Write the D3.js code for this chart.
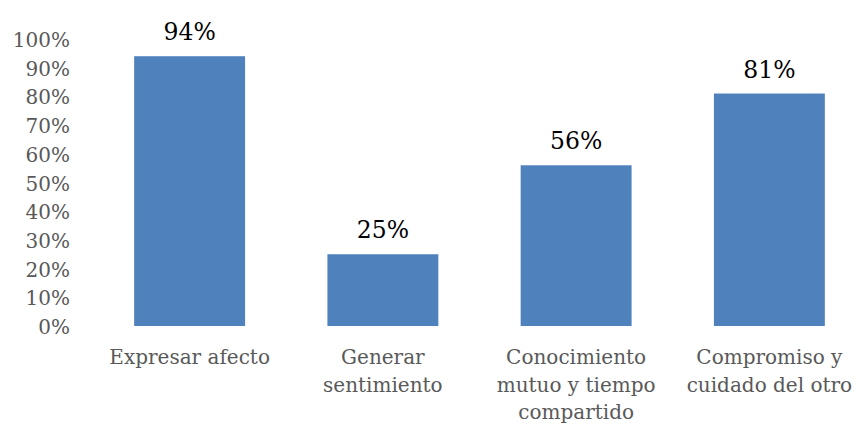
<!DOCTYPE html>
<html>
<head>
<meta charset="utf-8">
<script src="https://cdn.jsdelivr.net/npm/d3@7"></script>
<style>
  body { margin: 0; background: #fff; }
  text { font-family: "DejaVu Serif", serif; font-size: 20px; }
</style>
</head>
<body>
<div id="chart"></div>
<script>
var WIDTH = 854;
var HEIGHT = 424;

// data
var categories = ["Expresar afecto", "Generar sentimiento", "Conocimiento mutuo y tiempo compartido", "Compromiso y cuidado del otro"];
var label_lines = [["Expresar afecto"], ["Generar", "sentimiento"], ["Conocimiento", "mutuo y tiempo", "compartido"], ["Compromiso y", "cuidado del otro"]];
var values = [0.94, 0.25, 0.56, 0.81];
var y_ticks = [0, 0.1, 0.2, 0.3, 0.4, 0.5, 0.6, 0.7, 0.8, 0.9, 1.0];

var svg = d3.select("#chart").append("svg")
    .attr("width", WIDTH)
    .attr("height", HEIGHT);

var x = d3.scaleBand()
    .domain(categories)
    .range([93, 866])
    .paddingInner(0.426)
    .paddingOuter(0.213);

var y = d3.scaleLinear()
    .domain([0, 1])
    .range([326, 39]);

// y axis labels only, no line
var yAxis = d3.axisLeft(y)
    .tickValues(y_ticks)
    .tickFormat(d3.format(".0%"))
    .tickSize(0)
    .tickPadding(0);

var gy = svg.append("g")
    .attr("transform", "translate(70,0)")
    .call(yAxis);
gy.select(".domain").remove();
gy.selectAll("text")
    .attr("font-family", "DejaVu Serif")
    .attr("font-size", 20)
    .attr("fill", "#595959")
    .attr("dy", 7.5);

// bars
svg.append("g").selectAll("rect")
    .data(values)
    .join("rect")
    .attr("x", (d, i) => x(categories[i]))
    .attr("y", d => y(d))
    .attr("width", x.bandwidth())
    .attr("height", d => y(0) - y(d))
    .attr("fill", "#4F81BD");

// value labels
svg.append("g").selectAll("text")
    .data(values)
    .join("text")
    .attr("x", (d, i) => x(categories[i]) + x.bandwidth() / 2)
    .attr("y", d => y(d) - 16)
    .attr("text-anchor", "middle")
    .attr("fill", "#000")
    .style("font-size", "23.5px")
    .text(d => d3.format(".0%")(d));

// category labels
var cat = svg.append("g").selectAll("text")
    .data(label_lines)
    .join("text")
    .attr("x", (d, i) => x(categories[i]) + x.bandwidth() / 2)
    .attr("y", 364)
    .attr("text-anchor", "middle")
    .attr("fill", "#595959");

cat.selectAll("tspan")
    .data(d => d)
    .join("tspan")
    .attr("x", function() { return d3.select(this.parentNode).attr("x"); })
    .attr("dy", (d, i) => i === 0 ? 0 : 27.5)
    .text(d => d);
</script>
</body>
</html>
